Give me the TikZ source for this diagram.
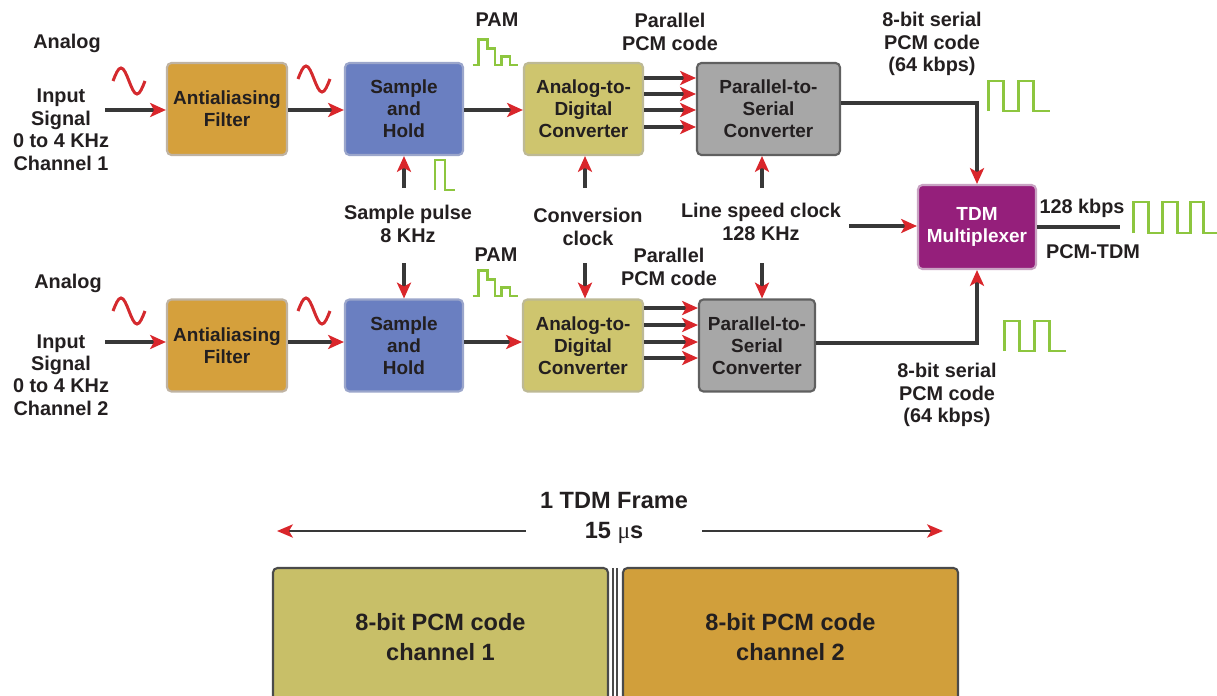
\documentclass[tikz,border=0pt]{standalone}
\usepackage{fontspec}
\setmainfont{Liberation Sans}
\newfontfamily\mufont{Liberation Serif}
\usetikzlibrary{arrows.meta}

\definecolor{txtc}{HTML}{231F20}
\definecolor{linec}{HTML}{383838}
\definecolor{arrc}{HTML}{D9262B}
\definecolor{greenc}{HTML}{8DC63F}
\definecolor{sinec}{HTML}{D42A2E}
\definecolor{filterc}{HTML}{D5A03C}
\definecolor{filterb}{HTML}{BFB3A3}
\definecolor{holdc}{HTML}{6A7FC1}
\definecolor{holdb}{HTML}{9BA6CB}
\definecolor{adcc}{HTML}{CEC56E}
\definecolor{adcb}{HTML}{BDB995}
\definecolor{psc}{HTML}{A7A7A7}
\definecolor{psb}{HTML}{606060}
\definecolor{tdmc}{HTML}{951F7B}
\definecolor{tdmb}{HTML}{C9A3C3}
\definecolor{ch1c}{HTML}{C8BF68}
\definecolor{ch2c}{HTML}{D19F3B}
\definecolor{frameb}{HTML}{4A4A4A}

\begin{document}
\begin{tikzpicture}
[x=0.02cm,y=-0.02cm,%
  every node/.style={font=\fontsize{11.3}{12.8}\selectfont\bfseries,text=txtc,align=center},%
  blk/.style={draw,rounded corners=2.5pt,line width=1.2pt,minimum height=1.84cm,inner sep=1pt,%
    font=\fontsize{10.8}{12.6}\selectfont\bfseries},%
  frm/.style={draw=frameb,rounded corners=2.5pt,line width=1.2pt,minimum width=6.7cm,minimum height=2.76cm,%
    font=\fontsize{13.4}{17}\selectfont\bfseries},%
  conn/.style={draw=linec,line width=1.9pt,-{Stealth[length=9pt,width=8pt,inset=2.2pt,color=arrc]}},%
  thinconn/.style={draw=linec,line width=1.3pt,-{Stealth[length=9pt,width=7.5pt,inset=2.2pt,color=arrc]}},%
  plain/.style={draw=linec,line width=1.9pt},%
  greenline/.style={draw=greenc,line width=1.7pt},%
  redline/.style={draw=sinec,line width=1.7pt},%
  sinepic/.pic={\draw[redline] (0,0) sin (8,-13) cos (16,0) sin (24,13) cos (32,0);},%
  pampic/.pic={\draw[greenline] (0,0) -- (5.6,0) -- (5.6,-25.7) -- (14.6,-25.7) -- (14.6,-16.7)
    -- (22.3,-16.7) -- (22.3,0) -- (29,0) -- (29,-8.3) -- (37.3,-8.3) -- (37.3,0) -- (45.6,0);},%
  sqpic/.pic={\draw[greenline] (0,0) -- (0,-30) -- (15,-30) -- (15,0) -- (30,0) -- (30,-30)
    -- (45,-30) -- (45,0) -- (62,0);}]
\useasboundingbox (0,0) rectangle (1217,696);

% channel 1
\node[blk,fill=filterc,draw=filterb,minimum width=2.4cm] (af1) at (227,109) {Antialiasing\\Filter};
\node[blk,fill=holdc,draw=holdb,minimum width=2.36cm] (sh1) at (404,109) {Sample\\and\\Hold};
\node[blk,fill=adcc,draw=adcb,minimum width=2.38cm] (adc1) at (583.5,109) {Analog-to-\\Digital\\Converter};
\node[blk,fill=psc,draw=psb,minimum width=2.86cm] (ps1) at (768.5,109) {Parallel-to-\\Serial\\Converter};

% channel 2
\node[blk,fill=filterc,draw=filterb,minimum width=2.4cm] (af2) at (227,345.5) {Antialiasing\\Filter};
\node[blk,fill=holdc,draw=holdb,minimum width=2.36cm] (sh2) at (404,345.5) {Sample\\and\\Hold};
\node[blk,fill=adcc,draw=adcb,minimum width=2.4cm] (adc2) at (583,345.5) {Analog-to-\\Digital\\Converter};
\node[blk,fill=psc,draw=psb,minimum width=2.32cm] (ps2) at (757,345.5) {Parallel-to-\\Serial\\Converter};

\node[blk,fill=tdmc,draw=tdmb,text=white,minimum width=2.36cm,minimum height=1.68cm] (tdm) at (977,227) {TDM\\Multiplexer};

% labels
\node (an1) at (67,43) {Analog};
\node (inp1) at (61,130) {Input\\Signal\\0 to 4 KHz\\Channel 1};
\node (an2) at (68,283) {Analog};
\node (inp2) at (61,375) {Input\\Signal\\0 to 4 KHz\\Channel 2};
\node (pam1) at (497,20) {PAM};
\node (pam2) at (496,255) {PAM};
\node (par1) at (670,32) {Parallel\\PCM code};
\node (par2) at (669,267) {Parallel\\PCM code};
\node (ser1) at (932,44) {8-bit serial\\PCM code\\(64 kbps)};
\node (ser2) at (947,395) {8-bit serial\\PCM code\\(64 kbps)};
\node (spl) at (408,224) {Sample pulse\\8 KHz};
\node (ccl) at (588,227) {Conversion\\clock};
\node (lsl) at (761,222) {Line speed clock\\128 KHz};
\node (rate) at (1082,208) {128 kbps};
\node (pcmtdm) at (1093,252) {PCM-TDM};

% free ends
\coordinate (in1) at (105,110);
\coordinate (in2) at (105,342);
\coordinate (spu) at (404,188);
\coordinate (spd) at (404,263);
\coordinate (ccu) at (585,188);
\coordinate (ccd) at (585,263);
\coordinate (lsu) at (762,188);
\coordinate (lsd) at (762,263);
\coordinate (lsr) at (849,226);
\coordinate (outr) at (1120,227);

\draw[conn] (in1) -- (af1.west |- in1);
\draw[conn] (af1.east |- in1) -- (sh1.west |- in1);
\draw[conn] (sh1.east |- in1) -- (adc1.west |- in1);
\foreach \yy in {78,94,110,127}
  \draw[conn] (adc1.east |- 0,\yy) -- (ps1.west |- 0,\yy);
\draw[conn] (in2) -- (af2.west |- in2);
\draw[conn] (af2.east |- in2) -- (sh2.west |- in2);
\draw[conn] (sh2.east |- in2) -- (adc2.west |- in2);
\foreach \yy in {308,325,342,358}
  \draw[conn] (adc2.east |- 0,\yy) -- (ps2.west |- 0,\yy);

\draw[conn] (spu) -- (spu |- sh1.south);
\draw[conn] (spd) -- (spd |- sh2.north);
\draw[conn] (ccu) -- (ccu |- adc1.south);
\draw[conn] (ccd) -- (ccd |- adc2.north);
\draw[conn] (lsu) -- (lsu |- ps1.south);
\draw[conn] (lsd) -- (lsd |- ps2.north);

\draw[conn] (ps1.east |- 0,103) -| (tdm.north);
\draw[conn] (ps2.east |- 0,343) -| (tdm.south);
\draw[conn] (lsr) -- (tdm.west |- lsr);
\draw[plain] (tdm.east |- outr) -- (outr);

% signal shapes
\pic at (113,81) {sinepic};
\pic at (298,79) {sinepic};
\pic at (113,311) {sinepic};
\pic at (298,311) {sinepic};
\pic at (472.7,65) {pampic};
\pic at (472.7,296) {pampic};
\pic at (988,111) {sqpic};
\pic at (1004,351) {sqpic};
\draw[greenline] (435,190) -- (435,160) -- (445,160) -- (445,190) -- (455,190);
\draw[greenline] (1133,233) -- (1133,202) -- (1148,202) -- (1148,233) -- (1162,233) -- (1162,202)
  -- (1177,202) -- (1177,233) -- (1190,233) -- (1190,202) -- (1203,202) -- (1203,233) -- (1217,233);

% frame
\node[font=\fontsize{13.4}{17}\selectfont\bfseries,inner xsep=8pt] (frame) at (614,518) {1 TDM Frame\\15 {\mufont\mdseries μ}s};
\coordinate (fl) at (277,531);
\coordinate (fr) at (943,531);
\draw[thinconn] (frame.west |- fl) -- (fl);
\draw[thinconn] (frame.east |- fr) -- (fr);
\node[frm,fill=ch1c] (slot1) at (440.5,637) {8-bit PCM code\\channel 1};
\node[frm,fill=ch2c] (slot2) at (790.5,637) {8-bit PCM code\\channel 2};
\draw[draw=frameb,line width=0.8pt] (613,568) -- (613,700);
\draw[draw=frameb,line width=0.8pt] (617,568) -- (617,700);
\end{tikzpicture}
\end{document}
